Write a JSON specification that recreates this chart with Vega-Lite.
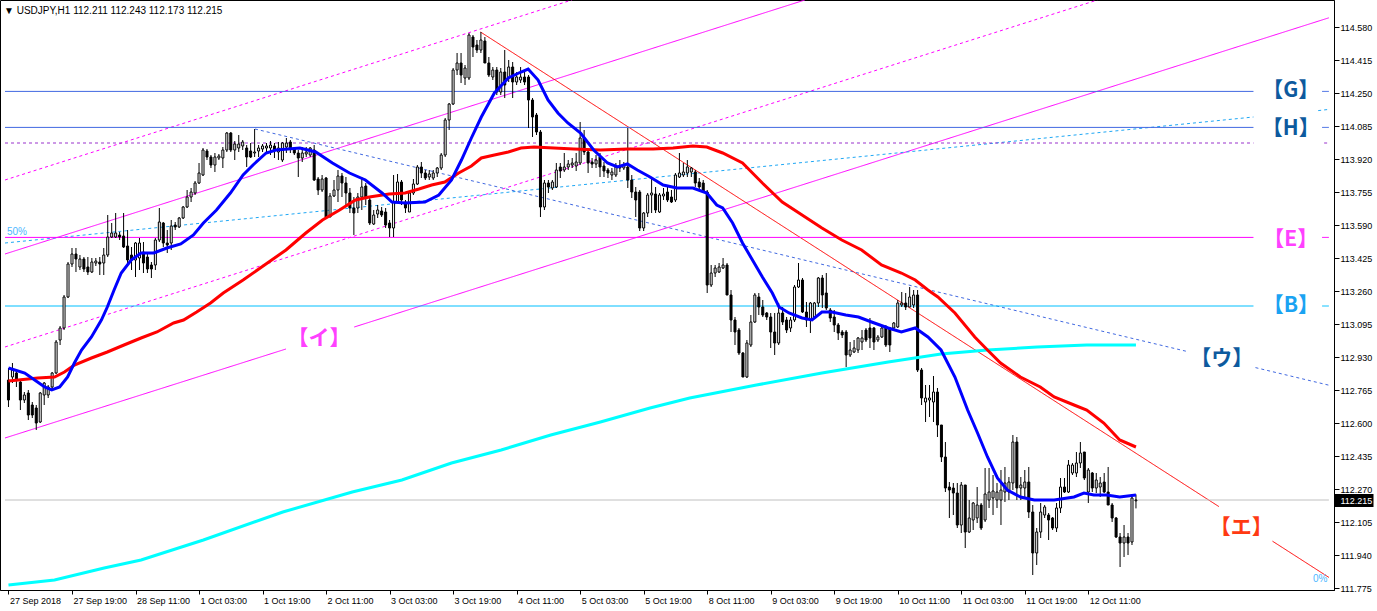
{
"$schema": "https://vega.github.io/schema/vega-lite/v6.json",
"width": 1334, "height": 590,
"autosize": {"type": "none"},
"padding": {"left": 0, "top": 0, "right": 43, "bottom": 21},
"background": "white",
"title": {"text": "▼ USDJPY,H1  112.211 112.243 112.173 112.215", "anchor": "start", "offset": -16, "dx": 4, "font": "Liberation Sans", "fontSize": 10, "fontWeight": "normal", "color": "black"},
"config": {"view": {"stroke": "black", "strokeWidth": 1}, "axis": {"labelOverlap": false}},
"resolve": {"scale": {"color": "independent", "strokeDash": "independent"}, "axis": {"x": "independent", "y": "independent"}},
"datasets": {
"lines": [
{"k":"chan","i1":-0.875,"p1":113.445,"i2":200.6,"p2":114.715},
{"k":"chan","i1":-0.875,"p1":112.525,"i2":69.9,"p2":112.97},
{"k":"chan","i1":87.1,"p1":113.08,"i2":332.6,"p2":114.626},
{"k":"chanDot","i1":-0.875,"p1":113.815,"i2":141.9,"p2":114.715},
{"k":"chanDot","i1":-0.875,"p1":112.98,"i2":274.3,"p2":114.715},
{"k":"fib","i1":-0.875,"p1":113.5,"i2":313.6,"p2":114.13},
{"k":"fib","i1":329.9,"p1":114.162,"i2":332.6,"p2":114.168},
{"k":"u","i1":62.1,"p1":114.07,"i2":296.6,"p2":112.959},
{"k":"u","i1":314.1,"p1":112.877,"i2":332.6,"p2":112.789},
{"k":"e","i1":118.9,"p1":114.555,"i2":304.9,"p2":112.182},
{"k":"e","i1":318.4,"p1":112.009,"i2":332.6,"p2":111.828},
{"k":"G","i1":-0.875,"p1":114.258,"i2":313.6,"p2":114.258},
{"k":"G","i1":330.9,"p1":114.258,"i2":332.6,"p2":114.258},
{"k":"H","i1":-0.875,"p1":114.078,"i2":313.6,"p2":114.078},
{"k":"H","i1":330.9,"p1":114.078,"i2":332.6,"p2":114.078},
{"k":"lv114","i1":-0.875,"p1":114.0,"i2":313.6,"p2":114.0},
{"k":"lv114","i1":331.4,"p1":114.0,"i2":332.6,"p2":114.0},
{"k":"E","i1":-0.875,"p1":113.528,"i2":313.6,"p2":113.528},
{"k":"E","i1":330.9,"p1":113.528,"i2":332.6,"p2":113.528},
{"k":"B","i1":-0.875,"p1":113.185,"i2":313.6,"p2":113.185},
{"k":"B","i1":330.9,"p1":113.185,"i2":332.6,"p2":113.185},
{"k":"last","i1":-0.875,"p1":112.215,"i2":332.6,"p2":112.215}
],
"bars": [
{"i":0,"o":112.815,"h":112.875,"l":112.68,"c":112.715},
{"i":1,"o":112.83,"h":112.9,"l":112.8,"c":112.865},
{"i":2,"o":112.85,"h":112.86,"l":112.78,"c":112.815},
{"i":3,"o":112.805,"h":112.815,"l":112.665,"c":112.715},
{"i":4,"o":112.715,"h":112.755,"l":112.7,"c":112.74},
{"i":5,"o":112.75,"h":112.765,"l":112.615,"c":112.64},
{"i":6,"o":112.69,"h":112.705,"l":112.625,"c":112.64},
{"i":7,"o":112.675,"h":112.69,"l":112.565,"c":112.6},
{"i":8,"o":112.605,"h":112.755,"l":112.6,"c":112.75},
{"i":9,"o":112.74,"h":112.805,"l":112.69,"c":112.8},
{"i":10,"o":112.74,"h":112.79,"l":112.725,"c":112.78},
{"i":11,"o":112.78,"h":112.855,"l":112.765,"c":112.85},
{"i":12,"o":112.85,"h":113.015,"l":112.845,"c":113.005},
{"i":13,"o":113.015,"h":113.085,"l":112.99,"c":113.075},
{"i":14,"o":113.075,"h":113.24,"l":113.065,"c":113.23},
{"i":15,"o":113.23,"h":113.405,"l":113.225,"c":113.395},
{"i":16,"o":113.395,"h":113.475,"l":113.38,"c":113.445},
{"i":17,"o":113.445,"h":113.475,"l":113.355,"c":113.42},
{"i":18,"o":113.38,"h":113.44,"l":113.365,"c":113.42},
{"i":19,"o":113.42,"h":113.43,"l":113.355,"c":113.37},
{"i":20,"o":113.38,"h":113.43,"l":113.34,"c":113.355},
{"i":21,"o":113.355,"h":113.425,"l":113.35,"c":113.405},
{"i":22,"o":113.4,"h":113.425,"l":113.385,"c":113.41},
{"i":23,"o":113.405,"h":113.43,"l":113.34,"c":113.395},
{"i":24,"o":113.4,"h":113.475,"l":113.34,"c":113.44},
{"i":25,"o":113.44,"h":113.64,"l":113.43,"c":113.53},
{"i":26,"o":113.53,"h":113.6,"l":113.525,"c":113.55},
{"i":27,"o":113.53,"h":113.65,"l":113.525,"c":113.55},
{"i":28,"o":113.54,"h":113.555,"l":113.515,"c":113.53},
{"i":29,"o":113.535,"h":113.65,"l":113.475,"c":113.48},
{"i":30,"o":113.485,"h":113.565,"l":113.4,"c":113.415},
{"i":31,"o":113.44,"h":113.48,"l":113.365,"c":113.415},
{"i":32,"o":113.415,"h":113.505,"l":113.33,"c":113.5},
{"i":33,"o":113.425,"h":113.525,"l":113.365,"c":113.5},
{"i":34,"o":113.455,"h":113.505,"l":113.35,"c":113.4},
{"i":35,"o":113.43,"h":113.45,"l":113.35,"c":113.37},
{"i":36,"o":113.39,"h":113.405,"l":113.325,"c":113.37},
{"i":37,"o":113.39,"h":113.525,"l":113.365,"c":113.515},
{"i":38,"o":113.515,"h":113.675,"l":113.505,"c":113.605},
{"i":39,"o":113.6,"h":113.605,"l":113.48,"c":113.5},
{"i":40,"o":113.5,"h":113.565,"l":113.45,"c":113.49},
{"i":41,"o":113.5,"h":113.615,"l":113.465,"c":113.585},
{"i":42,"o":113.59,"h":113.605,"l":113.565,"c":113.58},
{"i":43,"o":113.58,"h":113.63,"l":113.575,"c":113.625},
{"i":44,"o":113.625,"h":113.685,"l":113.62,"c":113.68},
{"i":45,"o":113.68,"h":113.765,"l":113.675,"c":113.73},
{"i":46,"o":113.73,"h":113.775,"l":113.705,"c":113.755},
{"i":47,"o":113.75,"h":113.81,"l":113.74,"c":113.8},
{"i":48,"o":113.8,"h":113.9,"l":113.795,"c":113.85},
{"i":49,"o":113.84,"h":113.975,"l":113.835,"c":113.965},
{"i":50,"o":113.96,"h":113.97,"l":113.915,"c":113.93},
{"i":51,"o":113.93,"h":113.94,"l":113.875,"c":113.89},
{"i":52,"o":113.89,"h":113.95,"l":113.855,"c":113.93},
{"i":53,"o":113.925,"h":113.945,"l":113.915,"c":113.935},
{"i":54,"o":113.925,"h":113.98,"l":113.875,"c":113.965},
{"i":55,"o":113.965,"h":114.055,"l":113.955,"c":114.05},
{"i":56,"o":114.05,"h":114.055,"l":113.955,"c":113.965},
{"i":57,"o":113.965,"h":114.01,"l":113.915,"c":113.995},
{"i":58,"o":113.975,"h":114.04,"l":113.955,"c":113.995},
{"i":59,"o":113.985,"h":114.015,"l":113.965,"c":114.005},
{"i":60,"o":113.975,"h":113.99,"l":113.88,"c":113.93},
{"i":61,"o":113.96,"h":114.0,"l":113.925,"c":113.93},
{"i":62,"o":113.95,"h":114.07,"l":113.93,"c":113.955},
{"i":63,"o":113.96,"h":113.99,"l":113.93,"c":113.975},
{"i":64,"o":113.97,"h":113.995,"l":113.955,"c":113.985},
{"i":65,"o":113.975,"h":114.0,"l":113.95,"c":113.985},
{"i":66,"o":113.975,"h":114.01,"l":113.94,"c":113.99},
{"i":67,"o":113.985,"h":114.0,"l":113.925,"c":113.965},
{"i":68,"o":113.955,"h":114.005,"l":113.915,"c":113.975},
{"i":69,"o":113.915,"h":114.005,"l":113.905,"c":114.0},
{"i":70,"o":113.98,"h":114.025,"l":113.95,"c":114.0},
{"i":71,"o":114.005,"h":114.015,"l":113.95,"c":113.97},
{"i":72,"o":113.97,"h":113.975,"l":113.94,"c":113.95},
{"i":73,"o":113.95,"h":113.965,"l":113.83,"c":113.925},
{"i":74,"o":113.925,"h":113.98,"l":113.905,"c":113.95},
{"i":75,"o":113.945,"h":113.98,"l":113.93,"c":113.955},
{"i":76,"o":113.94,"h":113.98,"l":113.93,"c":113.975},
{"i":77,"o":113.965,"h":113.99,"l":113.81,"c":113.815},
{"i":78,"o":113.82,"h":113.83,"l":113.74,"c":113.765},
{"i":79,"o":113.765,"h":113.84,"l":113.755,"c":113.82},
{"i":80,"o":113.825,"h":113.83,"l":113.63,"c":113.63},
{"i":81,"o":113.63,"h":113.75,"l":113.63,"c":113.735},
{"i":82,"o":113.735,"h":113.815,"l":113.73,"c":113.765},
{"i":83,"o":113.765,"h":113.865,"l":113.705,"c":113.835},
{"i":84,"o":113.835,"h":113.85,"l":113.73,"c":113.8},
{"i":85,"o":113.8,"h":113.83,"l":113.68,"c":113.75},
{"i":86,"o":113.75,"h":113.775,"l":113.65,"c":113.675},
{"i":87,"o":113.675,"h":113.73,"l":113.54,"c":113.65},
{"i":88,"o":113.675,"h":113.75,"l":113.65,"c":113.73},
{"i":89,"o":113.73,"h":113.83,"l":113.665,"c":113.78},
{"i":90,"o":113.785,"h":113.8,"l":113.69,"c":113.73},
{"i":91,"o":113.715,"h":113.725,"l":113.59,"c":113.6},
{"i":92,"o":113.595,"h":113.665,"l":113.59,"c":113.64},
{"i":93,"o":113.645,"h":113.69,"l":113.625,"c":113.665},
{"i":94,"o":113.66,"h":113.68,"l":113.63,"c":113.64},
{"i":95,"o":113.655,"h":113.675,"l":113.575,"c":113.59},
{"i":96,"o":113.6,"h":113.615,"l":113.53,"c":113.575},
{"i":97,"o":113.575,"h":113.84,"l":113.53,"c":113.705},
{"i":98,"o":113.705,"h":113.845,"l":113.7,"c":113.805},
{"i":99,"o":113.805,"h":113.815,"l":113.69,"c":113.715},
{"i":100,"o":113.705,"h":113.715,"l":113.65,"c":113.675},
{"i":101,"o":113.655,"h":113.755,"l":113.655,"c":113.75},
{"i":102,"o":113.75,"h":113.82,"l":113.74,"c":113.795},
{"i":103,"o":113.795,"h":113.89,"l":113.79,"c":113.88},
{"i":104,"o":113.88,"h":113.905,"l":113.825,"c":113.85},
{"i":105,"o":113.85,"h":113.865,"l":113.815,"c":113.825},
{"i":106,"o":113.83,"h":113.865,"l":113.815,"c":113.845},
{"i":107,"o":113.825,"h":113.865,"l":113.815,"c":113.85},
{"i":108,"o":113.85,"h":113.88,"l":113.83,"c":113.875},
{"i":109,"o":113.875,"h":113.95,"l":113.865,"c":113.94},
{"i":110,"o":113.94,"h":114.125,"l":113.93,"c":114.115},
{"i":111,"o":114.115,"h":114.2,"l":114.065,"c":114.195},
{"i":112,"o":114.195,"h":114.375,"l":114.19,"c":114.365},
{"i":113,"o":114.365,"h":114.45,"l":114.34,"c":114.4},
{"i":114,"o":114.4,"h":114.45,"l":114.3,"c":114.34},
{"i":115,"o":114.325,"h":114.39,"l":114.29,"c":114.375},
{"i":116,"o":114.325,"h":114.55,"l":114.315,"c":114.54},
{"i":117,"o":114.53,"h":114.54,"l":114.43,"c":114.48},
{"i":118,"o":114.49,"h":114.515,"l":114.45,"c":114.465},
{"i":119,"o":114.465,"h":114.555,"l":114.45,"c":114.515},
{"i":120,"o":114.51,"h":114.53,"l":114.4,"c":114.4},
{"i":121,"o":114.4,"h":114.43,"l":114.33,"c":114.34},
{"i":122,"o":114.33,"h":114.38,"l":114.315,"c":114.365},
{"i":123,"o":114.365,"h":114.38,"l":114.24,"c":114.255},
{"i":124,"o":114.255,"h":114.375,"l":114.24,"c":114.355},
{"i":125,"o":114.355,"h":114.465,"l":114.225,"c":114.29},
{"i":126,"o":114.325,"h":114.415,"l":114.305,"c":114.38},
{"i":127,"o":114.38,"h":114.405,"l":114.225,"c":114.305},
{"i":128,"o":114.305,"h":114.355,"l":114.29,"c":114.33},
{"i":129,"o":114.315,"h":114.38,"l":114.3,"c":114.33},
{"i":130,"o":114.33,"h":114.365,"l":114.29,"c":114.305},
{"i":131,"o":114.33,"h":114.34,"l":114.075,"c":114.215},
{"i":132,"o":114.215,"h":114.225,"l":114.03,"c":114.13},
{"i":133,"o":114.14,"h":114.15,"l":114.04,"c":114.055},
{"i":134,"o":114.055,"h":114.065,"l":113.63,"c":113.68},
{"i":135,"o":113.68,"h":113.815,"l":113.665,"c":113.8},
{"i":136,"o":113.8,"h":113.815,"l":113.75,"c":113.78},
{"i":137,"o":113.775,"h":113.815,"l":113.765,"c":113.805},
{"i":138,"o":113.78,"h":113.9,"l":113.775,"c":113.865},
{"i":139,"o":113.88,"h":113.9,"l":113.825,"c":113.86},
{"i":140,"o":113.865,"h":113.95,"l":113.855,"c":113.88},
{"i":141,"o":113.88,"h":113.915,"l":113.865,"c":113.895},
{"i":142,"o":113.89,"h":113.925,"l":113.875,"c":113.9},
{"i":143,"o":113.885,"h":113.95,"l":113.86,"c":113.905},
{"i":144,"o":113.9,"h":114.105,"l":113.89,"c":114.025},
{"i":145,"o":114.025,"h":114.065,"l":113.94,"c":113.955},
{"i":146,"o":113.955,"h":113.965,"l":113.85,"c":113.9},
{"i":147,"o":113.905,"h":113.925,"l":113.875,"c":113.895},
{"i":148,"o":113.895,"h":113.94,"l":113.875,"c":113.915},
{"i":149,"o":113.93,"h":113.95,"l":113.83,"c":113.88},
{"i":150,"o":113.885,"h":113.905,"l":113.83,"c":113.86},
{"i":151,"o":113.865,"h":113.875,"l":113.825,"c":113.85},
{"i":152,"o":113.84,"h":113.875,"l":113.815,"c":113.855},
{"i":153,"o":113.84,"h":113.9,"l":113.83,"c":113.88},
{"i":154,"o":113.88,"h":113.915,"l":113.855,"c":113.875},
{"i":155,"o":113.875,"h":113.905,"l":113.865,"c":113.89},
{"i":156,"o":113.88,"h":114.075,"l":113.775,"c":113.815},
{"i":157,"o":113.815,"h":113.84,"l":113.725,"c":113.755},
{"i":158,"o":113.755,"h":113.78,"l":113.63,"c":113.715},
{"i":159,"o":113.755,"h":113.765,"l":113.56,"c":113.575},
{"i":160,"o":113.575,"h":113.655,"l":113.56,"c":113.65},
{"i":161,"o":113.65,"h":113.75,"l":113.63,"c":113.74},
{"i":162,"o":113.74,"h":113.825,"l":113.65,"c":113.75},
{"i":163,"o":113.745,"h":113.78,"l":113.65,"c":113.665},
{"i":164,"o":113.655,"h":113.75,"l":113.65,"c":113.74},
{"i":165,"o":113.735,"h":113.775,"l":113.715,"c":113.745},
{"i":166,"o":113.755,"h":113.78,"l":113.705,"c":113.715},
{"i":167,"o":113.73,"h":113.765,"l":113.7,"c":113.705},
{"i":168,"o":113.715,"h":113.85,"l":113.705,"c":113.84},
{"i":169,"o":113.83,"h":113.95,"l":113.825,"c":113.85},
{"i":170,"o":113.84,"h":113.9,"l":113.83,"c":113.855},
{"i":171,"o":113.85,"h":113.915,"l":113.83,"c":113.88},
{"i":172,"o":113.855,"h":113.88,"l":113.83,"c":113.875},
{"i":173,"o":113.855,"h":113.865,"l":113.78,"c":113.8},
{"i":174,"o":113.805,"h":113.825,"l":113.765,"c":113.78},
{"i":175,"o":113.8,"h":113.815,"l":113.75,"c":113.755},
{"i":176,"o":113.755,"h":113.765,"l":113.25,"c":113.29},
{"i":177,"o":113.29,"h":113.39,"l":113.28,"c":113.35},
{"i":178,"o":113.35,"h":113.39,"l":113.33,"c":113.375},
{"i":179,"o":113.355,"h":113.4,"l":113.35,"c":113.38},
{"i":180,"o":113.375,"h":113.425,"l":113.37,"c":113.39},
{"i":181,"o":113.39,"h":113.4,"l":113.24,"c":113.24},
{"i":182,"o":113.24,"h":113.265,"l":113.055,"c":113.115},
{"i":183,"o":113.115,"h":113.13,"l":112.99,"c":113.055},
{"i":184,"o":113.065,"h":113.075,"l":112.94,"c":112.95},
{"i":185,"o":112.95,"h":112.955,"l":112.83,"c":112.83},
{"i":186,"o":112.83,"h":113.015,"l":112.825,"c":113.0},
{"i":187,"o":112.99,"h":113.14,"l":112.98,"c":113.105},
{"i":188,"o":113.105,"h":113.25,"l":113.1,"c":113.24},
{"i":189,"o":113.23,"h":113.25,"l":113.14,"c":113.18},
{"i":190,"o":113.18,"h":113.215,"l":113.13,"c":113.14},
{"i":191,"o":113.15,"h":113.155,"l":113.115,"c":113.13},
{"i":192,"o":113.13,"h":113.15,"l":112.975,"c":113.055},
{"i":193,"o":113.055,"h":113.15,"l":112.94,"c":113.0},
{"i":194,"o":113.0,"h":113.2,"l":112.99,"c":113.15},
{"i":195,"o":113.15,"h":113.18,"l":113.09,"c":113.105},
{"i":196,"o":113.115,"h":113.13,"l":113.05,"c":113.065},
{"i":197,"o":113.075,"h":113.13,"l":113.055,"c":113.115},
{"i":198,"o":113.115,"h":113.29,"l":113.105,"c":113.28},
{"i":199,"o":113.28,"h":113.4,"l":113.275,"c":113.315},
{"i":200,"o":113.315,"h":113.325,"l":113.15,"c":113.155},
{"i":201,"o":113.155,"h":113.205,"l":113.08,"c":113.115},
{"i":202,"o":113.115,"h":113.205,"l":113.05,"c":113.2},
{"i":203,"o":113.13,"h":113.205,"l":113.125,"c":113.2},
{"i":204,"o":113.2,"h":113.33,"l":113.18,"c":113.325},
{"i":205,"o":113.325,"h":113.34,"l":113.175,"c":113.24},
{"i":206,"o":113.25,"h":113.35,"l":113.165,"c":113.175},
{"i":207,"o":113.165,"h":113.175,"l":113.105,"c":113.125},
{"i":208,"o":113.13,"h":113.165,"l":113.055,"c":113.09},
{"i":209,"o":113.09,"h":113.1,"l":113.015,"c":113.05},
{"i":210,"o":113.055,"h":113.065,"l":113.025,"c":113.04},
{"i":211,"o":113.055,"h":113.065,"l":112.88,"c":112.94},
{"i":212,"o":112.94,"h":113.005,"l":112.93,"c":112.965},
{"i":213,"o":112.955,"h":113.015,"l":112.95,"c":112.975},
{"i":214,"o":112.965,"h":113.03,"l":112.95,"c":113.025},
{"i":215,"o":113.005,"h":113.065,"l":112.965,"c":113.025},
{"i":216,"o":113.065,"h":113.075,"l":113.005,"c":113.015},
{"i":217,"o":113.075,"h":113.125,"l":112.975,"c":113.025},
{"i":218,"o":113.075,"h":113.08,"l":112.965,"c":113.005},
{"i":219,"o":113.015,"h":113.04,"l":113.005,"c":113.03},
{"i":220,"o":113.03,"h":113.09,"l":113.025,"c":113.075},
{"i":221,"o":113.08,"h":113.09,"l":112.98,"c":112.99},
{"i":222,"o":113.075,"h":113.08,"l":112.955,"c":112.99},
{"i":223,"o":113.075,"h":113.105,"l":113.065,"c":113.1},
{"i":224,"o":113.08,"h":113.215,"l":113.075,"c":113.2},
{"i":225,"o":113.19,"h":113.255,"l":113.18,"c":113.2},
{"i":226,"o":113.2,"h":113.25,"l":113.165,"c":113.18},
{"i":227,"o":113.18,"h":113.28,"l":113.18,"c":113.23},
{"i":228,"o":113.19,"h":113.265,"l":113.175,"c":113.24},
{"i":229,"o":113.24,"h":113.265,"l":112.855,"c":112.865},
{"i":230,"o":112.865,"h":112.875,"l":112.69,"c":112.725},
{"i":231,"o":112.705,"h":112.79,"l":112.605,"c":112.725},
{"i":232,"o":112.715,"h":112.79,"l":112.63,"c":112.725},
{"i":233,"o":112.705,"h":112.835,"l":112.605,"c":112.755},
{"i":234,"o":112.755,"h":112.775,"l":112.53,"c":112.59},
{"i":235,"o":112.59,"h":112.59,"l":112.405,"c":112.43},
{"i":236,"o":112.43,"h":112.505,"l":112.255,"c":112.275},
{"i":237,"o":112.28,"h":112.305,"l":112.125,"c":112.265},
{"i":238,"o":112.275,"h":112.3,"l":112.14,"c":112.25},
{"i":239,"o":112.25,"h":112.3,"l":112.075,"c":112.09},
{"i":240,"o":112.09,"h":112.305,"l":112.05,"c":112.29},
{"i":241,"o":112.29,"h":112.29,"l":111.975,"c":112.055},
{"i":242,"o":112.055,"h":112.215,"l":112.05,"c":112.125},
{"i":243,"o":112.115,"h":112.205,"l":112.065,"c":112.2},
{"i":244,"o":112.125,"h":112.28,"l":112.1,"c":112.19},
{"i":245,"o":112.19,"h":112.2,"l":112.065,"c":112.075},
{"i":246,"o":112.115,"h":112.375,"l":112.105,"c":112.245},
{"i":247,"o":112.215,"h":112.375,"l":112.175,"c":112.255},
{"i":248,"o":112.225,"h":112.34,"l":112.14,"c":112.26},
{"i":249,"o":112.215,"h":112.3,"l":112.175,"c":112.255},
{"i":250,"o":112.215,"h":112.365,"l":112.09,"c":112.265},
{"i":251,"o":112.255,"h":112.38,"l":112.205,"c":112.3},
{"i":252,"o":112.255,"h":112.33,"l":112.215,"c":112.305},
{"i":253,"o":112.3,"h":112.54,"l":112.265,"c":112.505},
{"i":254,"o":112.505,"h":112.53,"l":112.215,"c":112.275},
{"i":255,"o":112.275,"h":112.33,"l":112.215,"c":112.29},
{"i":256,"o":112.275,"h":112.365,"l":112.23,"c":112.305},
{"i":257,"o":112.305,"h":112.38,"l":112.125,"c":112.155},
{"i":258,"o":112.155,"h":112.19,"l":111.84,"c":111.95},
{"i":259,"o":111.95,"h":112.075,"l":111.89,"c":112.055},
{"i":260,"o":112.055,"h":112.2,"l":112.025,"c":112.155},
{"i":261,"o":112.14,"h":112.19,"l":112.125,"c":112.18},
{"i":262,"o":112.14,"h":112.15,"l":112.015,"c":112.115},
{"i":263,"o":112.125,"h":112.13,"l":112.065,"c":112.075},
{"i":264,"o":112.075,"h":112.2,"l":112.055,"c":112.175},
{"i":265,"o":112.175,"h":112.325,"l":112.15,"c":112.28},
{"i":266,"o":112.28,"h":112.325,"l":112.25,"c":112.255},
{"i":267,"o":112.255,"h":112.415,"l":112.25,"c":112.39},
{"i":268,"o":112.35,"h":112.4,"l":112.34,"c":112.39},
{"i":269,"o":112.35,"h":112.455,"l":112.33,"c":112.4},
{"i":270,"o":112.4,"h":112.505,"l":112.375,"c":112.45},
{"i":271,"o":112.455,"h":112.455,"l":112.315,"c":112.325},
{"i":272,"o":112.255,"h":112.375,"l":112.2,"c":112.365},
{"i":273,"o":112.35,"h":112.355,"l":112.255,"c":112.275},
{"i":274,"o":112.275,"h":112.35,"l":112.25,"c":112.315},
{"i":275,"o":112.28,"h":112.33,"l":112.23,"c":112.3},
{"i":276,"o":112.305,"h":112.35,"l":112.25,"c":112.255},
{"i":277,"o":112.255,"h":112.38,"l":112.19,"c":112.19},
{"i":278,"o":112.19,"h":112.2,"l":112.105,"c":112.125},
{"i":279,"o":112.125,"h":112.13,"l":112.025,"c":112.03},
{"i":280,"o":112.03,"h":112.05,"l":111.88,"c":112.0},
{"i":281,"o":112.0,"h":112.09,"l":111.93,"c":112.03},
{"i":282,"o":112.03,"h":112.05,"l":111.94,"c":112.0},
{"i":283,"o":112.005,"h":112.23,"l":111.99,"c":112.225},
{"i":284,"o":112.211,"h":112.243,"l":112.173,"c":112.215}
],
"maLong": [
{"i":0,"p":111.79},{"i":11.6,"p":111.815},{"i":24.1,"p":111.875},{"i":33.4,"p":111.915},{"i":49.1,"p":112.015},{"i":69.1,"p":112.155},{"i":86.6,"p":112.255},{"i":99.1,"p":112.315},{"i":111.6,"p":112.4},{"i":124.1,"p":112.465},{"i":136.6,"p":112.54},{"i":149.1,"p":112.605},{"i":161.6,"p":112.675},{"i":171.6,"p":112.725},{"i":188.4,"p":112.79},{"i":204.9,"p":112.85},{"i":221.6,"p":112.905},{"i":234.9,"p":112.945},{"i":246.6,"p":112.965},{"i":259.1,"p":112.98},{"i":271.6,"p":112.99},{"i":284,"p":112.99}
],
"maMid": [
{"i":0,"p":112.81},{"i":7.4,"p":112.825},{"i":11.6,"p":112.83},{"i":14.1,"p":112.855},{"i":16.6,"p":112.89},{"i":20.9,"p":112.925},{"i":24.9,"p":112.955},{"i":29.1,"p":112.99},{"i":33.4,"p":113.025},{"i":37.4,"p":113.055},{"i":41.6,"p":113.1},{"i":44.1,"p":113.115},{"i":47.4,"p":113.155},{"i":50.9,"p":113.2},{"i":54.1,"p":113.25},{"i":59.1,"p":113.315},{"i":64.5,"p":113.39},{"i":69.9,"p":113.465},{"i":74.9,"p":113.55},{"i":79.1,"p":113.615},{"i":83.4,"p":113.665},{"i":87.4,"p":113.715},{"i":90.9,"p":113.73},{"i":95.9,"p":113.745},{"i":99.9,"p":113.75},{"i":103.4,"p":113.77},{"i":106.6,"p":113.79},{"i":109.9,"p":113.805},{"i":113.4,"p":113.85},{"i":116.6,"p":113.885},{"i":119.1,"p":113.925},{"i":122.4,"p":113.94},{"i":125.9,"p":113.955},{"i":129.1,"p":113.975},{"i":132.4,"p":113.98},{"i":137.4,"p":113.975},{"i":142.4,"p":113.97},{"i":149.1,"p":113.965},{"i":155.9,"p":113.97},{"i":162.4,"p":113.97},{"i":167.4,"p":113.975},{"i":172.4,"p":113.985},{"i":175.9,"p":113.98},{"i":179.9,"p":113.95},{"i":184.9,"p":113.9},{"i":189.9,"p":113.8},{"i":194.9,"p":113.705},{"i":199.9,"p":113.64},{"i":204.9,"p":113.575},{"i":209.9,"p":113.515},{"i":214.9,"p":113.465},{"i":219.9,"p":113.39},{"i":224.9,"p":113.35},{"i":228.4,"p":113.315},{"i":231.6,"p":113.265},{"i":234.1,"p":113.23},{"i":238.4,"p":113.15},{"i":243.4,"p":113.03},{"i":246.6,"p":112.965},{"i":249.9,"p":112.9},{"i":254.9,"p":112.83},{"i":259.9,"p":112.78},{"i":263.4,"p":112.73},{"i":268.4,"p":112.69},{"i":271.6,"p":112.665},{"i":275.9,"p":112.6},{"i":279.9,"p":112.515},{"i":284,"p":112.48}
],
"maShort": [
{"i":0,"p":112.875},{"i":4.1,"p":112.85},{"i":6.6,"p":112.815},{"i":9.1,"p":112.78},{"i":10.9,"p":112.765},{"i":12.9,"p":112.78},{"i":14.9,"p":112.83},{"i":16.6,"p":112.9},{"i":18.4,"p":112.965},{"i":20.9,"p":113.03},{"i":23.4,"p":113.115},{"i":24.9,"p":113.18},{"i":26.6,"p":113.265},{"i":28.4,"p":113.35},{"i":30.9,"p":113.415},{"i":33.4,"p":113.45},{"i":36.6,"p":113.45},{"i":39.9,"p":113.475},{"i":43.4,"p":113.495},{"i":46.6,"p":113.54},{"i":49.1,"p":113.6},{"i":52.4,"p":113.665},{"i":55.9,"p":113.75},{"i":59.1,"p":113.84},{"i":61.6,"p":113.89},{"i":64.9,"p":113.95},{"i":67.4,"p":113.965},{"i":73.4,"p":113.975},{"i":77.4,"p":113.955},{"i":81.6,"p":113.9},{"i":85.9,"p":113.85},{"i":89.9,"p":113.815},{"i":94.1,"p":113.75},{"i":96.6,"p":113.705},{"i":99.9,"p":113.7},{"i":104.9,"p":113.705},{"i":108.4,"p":113.74},{"i":111.6,"p":113.815},{"i":114.1,"p":113.915},{"i":116.6,"p":114.025},{"i":119.1,"p":114.13},{"i":122.4,"p":114.25},{"i":125.9,"p":114.325},{"i":129.1,"p":114.355},{"i":130.9,"p":114.37},{"i":133.4,"p":114.315},{"i":135.9,"p":114.215},{"i":138.4,"p":114.15},{"i":140.9,"p":114.1},{"i":144.1,"p":114.05},{"i":147.4,"p":113.965},{"i":150.9,"p":113.9},{"i":153.4,"p":113.88},{"i":155.9,"p":113.895},{"i":158.4,"p":113.865},{"i":161.6,"p":113.83},{"i":164.9,"p":113.79},{"i":168.4,"p":113.775},{"i":172.4,"p":113.775},{"i":175.9,"p":113.75},{"i":178.4,"p":113.69},{"i":179.9,"p":113.675},{"i":182.4,"p":113.6},{"i":184.9,"p":113.5},{"i":187.4,"p":113.415},{"i":189.9,"p":113.33},{"i":192.4,"p":113.25},{"i":194.1,"p":113.18},{"i":196.6,"p":113.15},{"i":199.9,"p":113.125},{"i":202.4,"p":113.115},{"i":204.9,"p":113.155},{"i":207.4,"p":113.155},{"i":210.9,"p":113.14},{"i":214.1,"p":113.13},{"i":217.4,"p":113.105},{"i":221.6,"p":113.075},{"i":224.9,"p":113.055},{"i":228.4,"p":113.075},{"i":231.6,"p":113.03},{"i":234.9,"p":112.965},{"i":238.4,"p":112.83},{"i":241.6,"p":112.665},{"i":244.1,"p":112.55},{"i":246.6,"p":112.43},{"i":249.1,"p":112.325},{"i":251.6,"p":112.265},{"i":254.9,"p":112.23},{"i":258.4,"p":112.215},{"i":263.4,"p":112.215},{"i":268.4,"p":112.23},{"i":270.9,"p":112.25},{"i":273.4,"p":112.24},{"i":276.6,"p":112.24},{"i":279.9,"p":112.23},{"i":284,"p":112.24}
],
"labels": [
{"t":"【G】","i":323,"p":114.258},
{"t":"【H】","i":323,"p":114.068},
{"t":"【E】","i":323,"p":113.515},
{"t":"【B】","i":323,"p":113.185},
{"t":"【ウ】","i":305.6,"p":112.92},
{"t":"【エ】","i":310.5,"p":112.075},
{"t":"【イ】","i":78.2,"p":113.018}
],
"fibText": [
{"t":"50%","i":-0.4,"p":113.555},
{"t":"0%","i":328.6,"p":111.82}
]
},
"layer": [
{
"data": {"name": "lines"},
"mark": {"type": "rule", "strokeWidth": 1, "clip": true},
"encoding": {
"x": {"field": "i1", "type": "quantitative", "scale": {"domain": [-0.875, 332.625], "nice": false, "zero": false},
 "axis": {"title": null, "grid": false, "values": [0,16,32,48,64,80,96,112,128,144,160,176,192,208,224,240,256,272],
  "labelExpr": "['27 Sep 2018','27 Sep 19:00','28 Sep 11:00','1 Oct 03:00','1 Oct 19:00','2 Oct 11:00','3 Oct 03:00','3 Oct 19:00','4 Oct 11:00','5 Oct 03:00','5 Oct 19:00','8 Oct 11:00','9 Oct 03:00','9 Oct 19:00','10 Oct 11:00','11 Oct 03:00','11 Oct 19:00','12 Oct 11:00'][datum.value/16]",
  "labelAlign": "left", "labelBaseline": "top", "labelPadding": 2, "labelOffset": 1, "tickSize": 4, "tickColor": "black", "domainColor": "black",
  "labelFont": "Liberation Sans", "labelFontSize": 9, "labelColor": "black", "labelOverlap": false, "labelFlush": false, "labelBound": false}},
"y": {"field": "p1", "type": "quantitative", "scale": {"domain": [111.765, 114.715], "nice": false, "zero": false},
 "axis": {"orient": "right", "title": null, "grid": false,
  "values": [114.58,114.415,114.25,114.085,113.92,113.755,113.59,113.425,113.26,113.095,112.93,112.765,112.6,112.435,112.27,112.105,111.94,111.775],
  "format": ".3f", "domainColor": "black", "tickColor": "black", "tickSize": 5, "labelPadding": 1, "labelColor": "black",
  "labelFont": "Liberation Sans", "labelFontSize": 9, "labelOverlap": false, "labelFlush": false, "labelBound": false}},
"x2": {"field": "i2"},
"y2": {"field": "p2"},
"color": {"field": "k", "type": "nominal", "legend": null,
 "scale": {"domain": ["chan","chanDot","fib","u","e","G","H","lv114","E","B","last"],
  "range": ["#FF00FF","#FF00FF","#1EA7F5","#4169E1","#FF0000","#4169E1","#4169E1","#9932CC","#FF00FF","#00BFFF","#C0C0C0"]}},
"strokeDash": {"field": "k", "type": "nominal", "legend": null,
 "scale": {"domain": ["chan","chanDot","fib","u","e","G","H","lv114","E","B","last"],
  "range": [[1,0],[3,3],[3,3],[3,3],[1,0],[1,0],[1,0],[3,3],[1,0],[1,0],[1,0]]}}
}
},
{
"data": {"name": "bars"},
"mark": {"type": "rule", "color": "black", "strokeWidth": 1},
"encoding": {
"x": {"field": "i", "type": "quantitative", "axis": null},
"y": {"field": "l", "type": "quantitative", "axis": null},
"y2": {"field": "h"}
}
},
{
"data": {"name": "bars"},
"mark": {"type": "bar", "width": 2, "stroke": "black", "strokeWidth": 1},
"encoding": {
"x": {"field": "i", "type": "quantitative", "axis": null},
"y": {"field": "o", "type": "quantitative", "axis": null},
"y2": {"field": "c"},
"fill": {"condition": {"test": "datum.c >= datum.o", "value": "white"}, "value": "black"}
}
},
{
"data": {"name": "maLong"},
"mark": {"type": "line", "color": "#00FFFF", "strokeWidth": 3},
"encoding": {
"x": {"field": "i", "type": "quantitative", "axis": null},
"y": {"field": "p", "type": "quantitative", "axis": null}
}
},
{
"data": {"name": "maMid"},
"mark": {"type": "line", "color": "#FF0000", "strokeWidth": 3},
"encoding": {
"x": {"field": "i", "type": "quantitative", "axis": null},
"y": {"field": "p", "type": "quantitative", "axis": null}
}
},
{
"data": {"name": "maShort"},
"mark": {"type": "line", "color": "#0000FF", "strokeWidth": 3},
"encoding": {
"x": {"field": "i", "type": "quantitative", "axis": null},
"y": {"field": "p", "type": "quantitative", "axis": null}
}
},
{
"data": {"name": "labels"},
"mark": {"type": "text", "font": "Noto Sans CJK JP", "fontSize": 21, "fontWeight": "bold", "align": "center", "baseline": "middle"},
"encoding": {
"x": {"field": "i", "type": "quantitative", "axis": null},
"y": {"field": "p", "type": "quantitative", "axis": null},
"text": {"field": "t"},
"color": {"field": "t", "type": "nominal", "legend": null,
 "scale": {"domain": ["【G】","【H】","【E】","【B】","【ウ】","【エ】","【イ】"],
  "range": ["#0D5A9E","#0D5A9E","#FF40FF","#1AA3F2","#0D5A9E","#FF3A12","#FF40FF"]}}
}
},
{
"data": {"name": "fibText"},
"mark": {"type": "text", "font": "Liberation Sans", "fontSize": 10, "align": "left", "baseline": "middle", "color": "#4DB8FF"},
"encoding": {
"x": {"field": "i", "type": "quantitative", "axis": null},
"y": {"field": "p", "type": "quantitative",
 "axis": {"orient": "right", "title": null, "grid": false, "domain": false, "values": [112.215], "format": ".3f",
  "tickSize": 39, "tickWidth": 13, "tickColor": "black", "labelPadding": -33, "labelColor": "white",
  "labelFont": "Liberation Sans", "labelFontSize": 9, "labelOverlap": false, "labelFlush": false, "labelBound": false}},
"text": {"field": "t"}
}
}
]
}
